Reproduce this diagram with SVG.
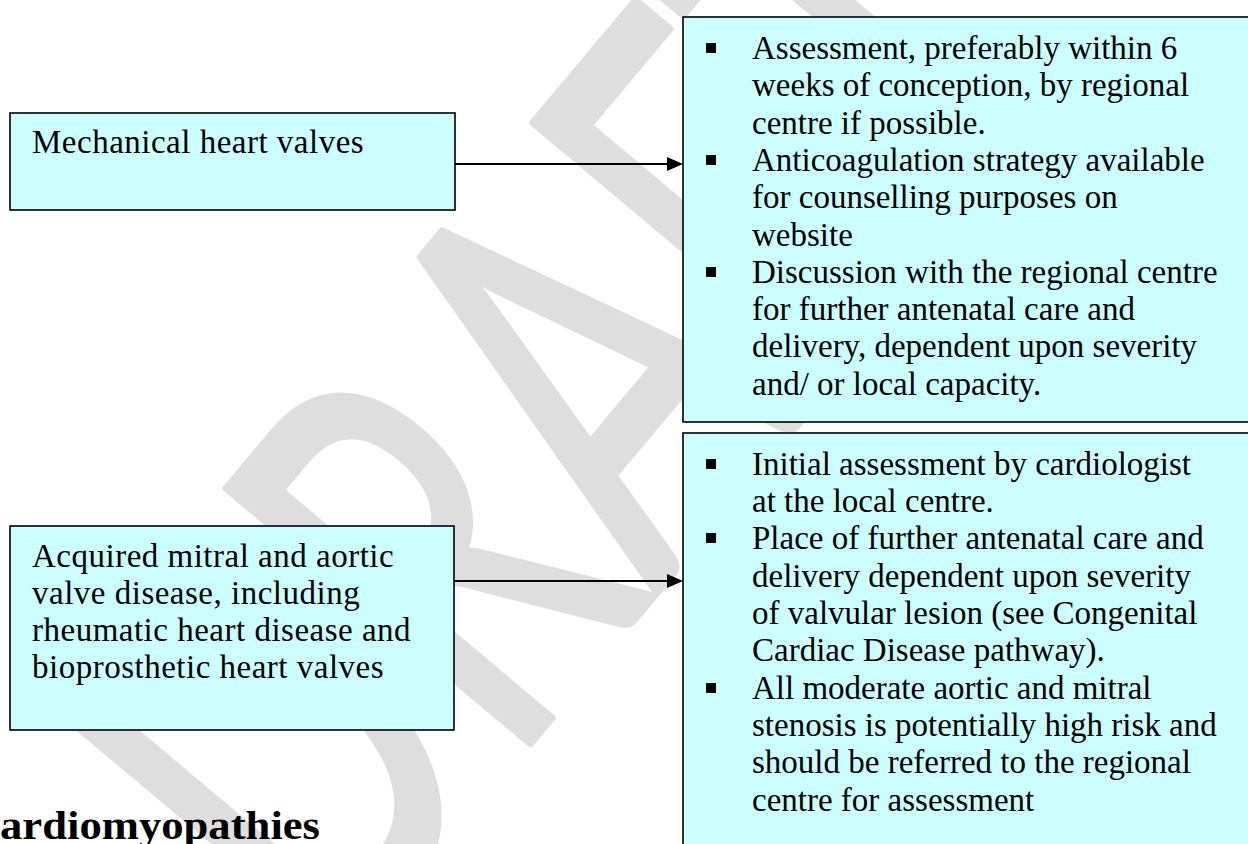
<svg xmlns="http://www.w3.org/2000/svg" width="1248" height="844" viewBox="0 0 1248 844">
<defs>
<style>
.box{fill:#CCFFFF;stroke:#000;stroke-width:1.6}
.t{font-family:"Liberation Serif","Times New Roman",serif;font-size:33px;fill:#000}
.tl{letter-spacing:0.5px}
.b{fill:#000}
.wm{font-family:Lato,"Liberation Sans",sans-serif;font-size:553px;fill:#dedede;stroke:#dedede;stroke-width:8;stroke-linejoin:round}
.con{stroke:#000;stroke-width:2;fill:none}
.h{font-family:"Liberation Serif","Times New Roman",serif;font-weight:bold;font-size:39px;fill:#000}
</style>
</defs>
<rect width="1248" height="844" fill="#fff"/>
<text class="wm" x="0" y="0" textLength="1179" lengthAdjust="spacingAndGlyphs" transform="translate(329,983) rotate(-50)">DRAFT</text>
<text class="h" x="0" y="839" textLength="320" lengthAdjust="spacingAndGlyphs">ardiomyopathies</text>
<g id="n1">
<rect class="box" x="10" y="113" width="445" height="97"/>
<text class="t tl" x="32" y="153">Mechanical heart valves</text>
</g>
<g id="n2">
<rect class="box" x="10" y="526" width="444" height="204"/>
<text class="t tl" x="32" y="567">Acquired mitral and aortic</text>
<text class="t tl" x="32" y="604">valve disease, including</text>
<text class="t tl" x="32" y="641">rheumatic heart disease and</text>
<text class="t tl" x="32" y="678">bioprosthetic heart valves</text>
</g>
<g id="n3">
<rect class="box" x="683" y="17" width="580" height="405"/>
<rect class="b" x="706" y="43" width="10" height="10"/>
<rect class="b" x="706" y="155" width="10" height="10"/>
<rect class="b" x="706" y="267" width="10" height="10"/>
<text class="t" x="752" y="59">Assessment, preferably within 6</text>
<text class="t" x="752" y="96">weeks of conception, by regional</text>
<text class="t" x="752" y="134">centre if possible.</text>
<text class="t" x="752" y="171">Anticoagulation strategy available</text>
<text class="t" x="752" y="208">for counselling purposes on</text>
<text class="t" x="752" y="246">website</text>
<text class="t" x="752" y="283">Discussion with the regional centre</text>
<text class="t" x="752" y="320">for further antenatal care and</text>
<text class="t" x="752" y="357">delivery, dependent upon severity</text>
<text class="t" x="752" y="395">and/ or local capacity.</text>
</g>
<g id="n4">
<rect class="box" x="683" y="433" width="580" height="430"/>
<rect class="b" x="706" y="459" width="10" height="10"/>
<rect class="b" x="706" y="533" width="10" height="10"/>
<rect class="b" x="706" y="683" width="10" height="10"/>
<text class="t" x="752" y="475">Initial assessment by cardiologist</text>
<text class="t" x="752" y="512">at the local centre.</text>
<text class="t" x="752" y="549">Place of further antenatal care and</text>
<text class="t" x="752" y="587">delivery dependent upon severity</text>
<text class="t" x="752" y="624">of valvular lesion (see Congenital</text>
<text class="t" x="752" y="661">Cardiac Disease pathway).</text>
<text class="t" x="752" y="699">All moderate aortic and mitral</text>
<text class="t" x="752" y="736">stenosis is potentially high risk and</text>
<text class="t" x="752" y="773">should be referred to the regional</text>
<text class="t" x="752" y="811">centre for assessment</text>
</g>
<g id="connectors">
<line class="con" x1="455" y1="164" x2="668" y2="164"/>
<polygon points="667,157 683,164 667,171" fill="#000"/>
<line class="con" x1="454" y1="581" x2="668" y2="581"/>
<polygon points="667,574 683,581 667,588" fill="#000"/>
</g>
</svg>
